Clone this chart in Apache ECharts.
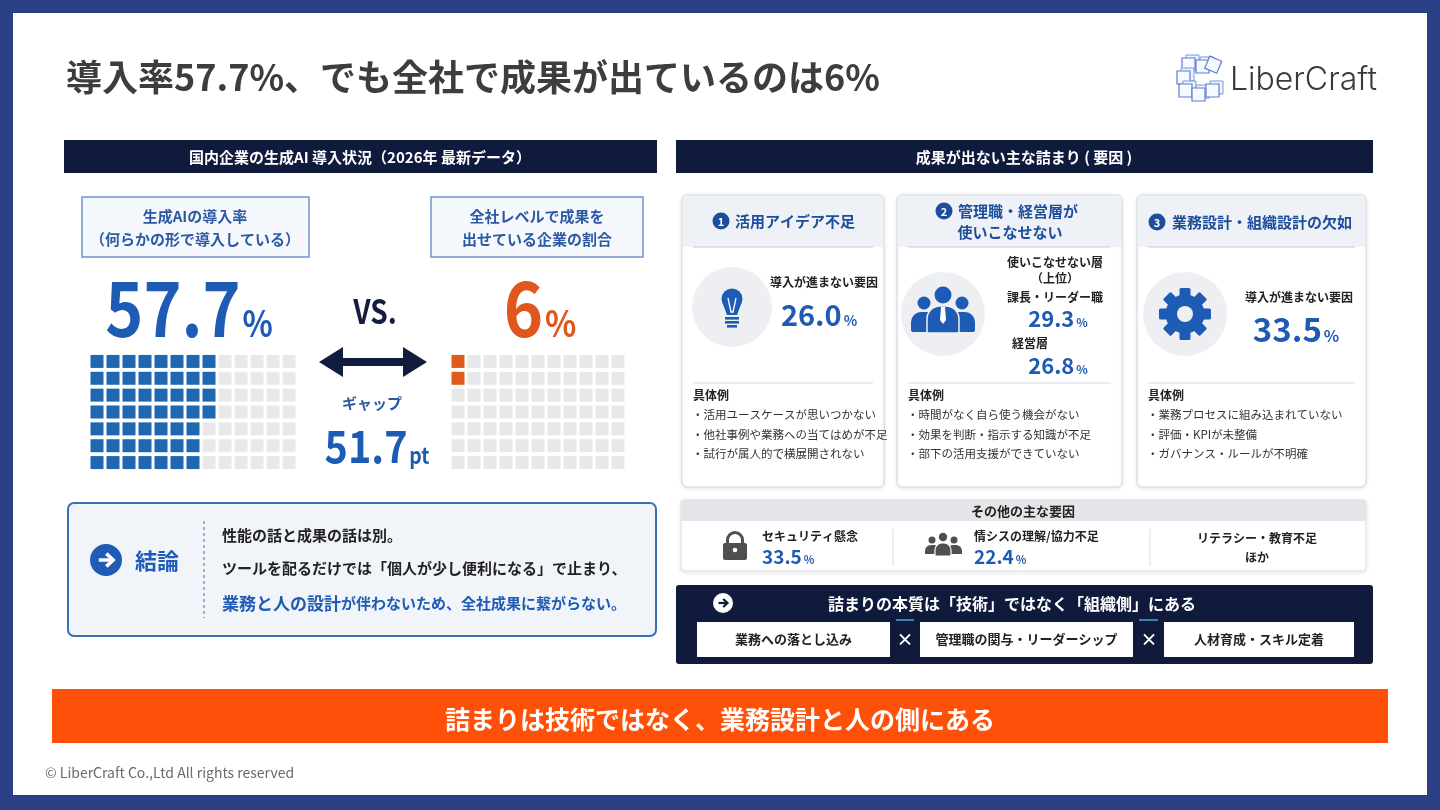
<!DOCTYPE html>
<html>
<head>
<meta charset="utf-8">
<script src="https://cdn.jsdelivr.net/npm/echarts@6/dist/echarts.min.js"></script>
<style>
  html, body { margin: 0; padding: 0; background: #2b3f84; }
  #main { width: 1440px; height: 810px; }
</style>
</head>
<body>
<div id="main"></div>
<script>
// ---- data ----
var headlineRates = [57.7, 6];          // 導入率 / 全社で成果
var gapPoints = 51.7;
var waffleRows = 7;
var waffleCols = [13, 11];
var waffleFilled = [53, 2];
var causeTitles = ['活用アイデア不足', '管理職・経営層が', '業務設計・組織設計の欠如'];
var causeValues = [26.0, 33.5];         // card 1, card 3
var managerLayers = ['課長・リーダー職', '経営層'];
var managerValues = [29.3, 26.8];
var causeExamples = [
  ['・活用ユースケースが思いつかない', '・他社事例や業務への当てはめが不足', '・試行が属人的で横展開されない'],
  ['・時間がなく自ら使う機会がない', '・効果を判断・指示する知識が不足', '・部下の活用支援ができていない'],
  ['・業務プロセスに組み込まれていない', '・評価・KPIが未整備', '・ガバナンス・ルールが不明確']
];
var otherFactors = ['セキュリティ懸念', '情シスの理解/協力不足', 'リテラシー・教育不足'];
var otherValues = [33.5, 22.4];
var keyFactors = ['業務への落とし込み', '管理職の関与・リーダーシップ', '人材育成・スキル定着'];

var FONT = '"Noto Sans CJK JP", "Noto Sans", sans-serif';
var BLUE = '#1e5bb4';
var NAVY = '#0f1a3c';
var ORANGE = '#e0561c';
var DARK = '#222';

// ---- small helpers for graphic elements ----
var T = function (x, y, text, size, color, weight, align) {
  return {
    type: 'text', x: x, y: y,
    style: {
      text: text, fill: color || DARK,
      font: (weight || 'bold') + ' ' + size + 'px ' + FONT,
      align: align || 'left', verticalAlign: 'middle'
    }
  };
};
var R = function (x, y, w, h, fill, stroke, lw, r, extra) {
  var e = {
    type: 'rect', shape: { x: x, y: y, width: w, height: h, r: r || 0 },
    style: { fill: fill, stroke: stroke || null, lineWidth: lw || 0 }
  };
  if (extra) { for (var k in extra) e.style[k] = extra[k]; }
  return e;
};
var C = function (cx, cy, r, fill) {
  return { type: 'circle', shape: { cx: cx, cy: cy, r: r }, style: { fill: fill } };
};
var L = function (x1, y1, x2, y2, color, lw, dash) {
  return {
    type: 'line', shape: { x1: x1, y1: y1, x2: x2, y2: y2 },
    style: { stroke: color, lineWidth: lw || 1, lineDash: dash || null }
  };
};
var pct = function (v, big, small, color) {
  return {
    text: '{n|' + v + '}{p|%}',
    rich: {
      n: { font: 'bold ' + big + 'px ' + FONT, fill: color, verticalAlign: 'bottom', lineHeight: big },
      p: { font: 'bold ' + small + 'px ' + FONT, fill: color, verticalAlign: 'bottom', lineHeight: big, padding: [0, 0, big * 0.06, 2] }
    }
  };
};
var RT = function (x, y, rt, align, sx) {
  rt.align = align || 'center';
  rt.verticalAlign = 'middle';
  return { type: 'text', x: x, y: y, scaleX: sx || 1, style: rt };
};
var arrowCircle = function (cx, cy, r, bg, fg) {
  return [
    C(cx, cy, r, bg),
    L(cx - r * 0.45, cy, cx + r * 0.4, cy, fg, r * 0.22),
    { type: 'polyline', shape: { points: [[cx + r * 0.02, cy - r * 0.4], [cx + r * 0.45, cy], [cx + r * 0.02, cy + r * 0.4]] },
      style: { stroke: fg, lineWidth: r * 0.22, fill: null } }
  ];
};
var numBadge = function (cx, cy, n) {
  return [C(cx, cy, 8.5, '#1d4d9b'), T(cx, cy + 0.5, String(n), 11, '#fff', 'bold', 'center')];
};

var g = [];
// frame panel
g.push(R(13, 13, 1414, 782, '#ffffff'));

// title + logo
g.push(T(66, 77, '導入率57.7%、でも全社で成果が出ているのは6%', 36, '#3d3d3d'));
var cubes = [[1182, 58], [1196, 60], [1177, 71], [1179, 84], [1192, 88], [1206, 84]];
cubes.forEach(function (c) {
  g.push(R(c[0] + 4, c[1] - 3, 13, 13, '#eef3fd', '#7b97d8', 1));
  g.push(R(c[0], c[1], 13, 13, '#f6f9ff', '#5b7fd0', 1.2));
});
g.push({ type: 'rect', shape: { x: 1207, y: 58, width: 13, height: 13 }, rotation: -0.4, originX: 1213, originY: 64,
  style: { fill: '#f6f9ff', stroke: '#5b7fd0', lineWidth: 1.2 } });
g.push({ type: 'text', x: 1230, y: 80, style: { text: 'LiberCraft', fill: '#3a3a3a', font: '300 32px Inter, Lato, sans-serif', align: 'left', verticalAlign: 'middle' } });

// section headers
g.push(R(64, 140, 593, 33, NAVY));
g.push(T(360, 157, '国内企業の生成AI 導入状況（2026年 最新データ）', 15, '#fff', 'bold', 'center'));
g.push(R(676, 140, 697, 33, NAVY));
g.push(T(1024, 157, '成果が出ない主な詰まり ( 要因 )', 15, '#fff', 'bold', 'center'));

// left: label boxes
g.push(R(82, 197, 227, 60, '#f5f8fc', '#6d95cf', 1.5));
g.push(T(195, 216, '生成AIの導入率', 15, '#2b5aa3', 'bold', 'center'));
g.push(T(195, 239, '（何らかの形で導入している）', 15, '#2b5aa3', 'bold', 'center'));
g.push(R(431, 197, 212, 60, '#f5f8fc', '#6d95cf', 1.5));
g.push(T(537, 216, '全社レベルで成果を', 15, '#2b5aa3', 'bold', 'center'));
g.push(T(537, 239, '出せている企業の割合', 15, '#2b5aa3', 'bold', 'center'));

// big numbers
g.push(RT(189, 308, pct(headlineRates[0], 76, 37, BLUE), 'center', 0.85));
var vs = T(375, 311, 'VS.', 33, '#141d3d', 'bold', 'center');
vs.scaleX = 0.85;
g.push(vs);
g.push(RT(540, 308, pct(headlineRates[1], 76, 37, ORANGE), 'center', 0.88));

// double arrow + gap
g.push({ type: 'polygon', shape: { points: [[319, 362], [343, 347], [343, 358], [403, 358], [403, 347], [427, 362], [403, 377], [403, 366], [343, 366], [343, 377]] },
  style: { fill: '#121c3c' } });
g.push(T(372, 403, 'ギャップ', 15, '#2b5aa3', 'bold', 'center'));
g.push(RT(377, 446, {
  text: '{n|' + gapPoints + '}{p|pt}',
  rich: {
    n: { font: 'bold 45px ' + FONT, fill: BLUE, verticalAlign: 'bottom', lineHeight: 45 },
    p: { font: 'bold 22px ' + FONT, fill: BLUE, verticalAlign: 'bottom', lineHeight: 45, padding: [0, 0, 2, 2] }
  }
}, 'center', 0.88));

// conclusion box
g.push(R(68, 503, 588, 133, '#f1f4f9', '#3a6fb5', 2, 6));
arrowCircle(106, 560, 16, '#1f5cb5', '#fff').forEach(function (e) { g.push(e); });
g.push(T(135, 561, '結論', 22, '#1f5cb5', 'bold'));
g.push(L(204, 521, 204, 618, '#6b7fa8', 1.2, [3, 3]));
g.push(T(222, 535, '性能の話と成果の話は別。', 15, DARK));
g.push(T(222, 568, 'ツールを配るだけでは「個人が少し便利になる」で止まり、', 15, DARK));
g.push(RT(222, 602, {
  text: '{a|業務と人の設計}{b|が伴わないため、全社成果に繋がらない。}',
  rich: {
    a: { font: 'bold 17px ' + FONT, fill: '#1f5cb5', verticalAlign: 'bottom', lineHeight: 20 },
    b: { font: 'bold 15px ' + FONT, fill: '#1f5cb5', verticalAlign: 'bottom', lineHeight: 20, padding: [0, 0, 1, 0] }
  }
}, 'left'));

// right: cause cards
var cards = [[682, 202], [897, 225], [1137, 229]];
var shadow = { shadowBlur: 4, shadowColor: 'rgba(0,0,0,0.10)', shadowOffsetY: 1 };
cards.forEach(function (c, i) {
  g.push(R(c[0], 195, c[1], 292, '#fff', '#d3d8df', 1, 5, shadow));
  g.push(R(c[0] + 1, 196, c[1] - 2, 51, '#eef2f7', null, 0, [5, 5, 0, 0]));
  g.push(L(c[0] + 11, 247, c[0] + c[1] - 11, 247, '#c9ced6', 1));
  g.push(L(c[0] + 11, 383, c[0] + c[1] - 11, 383, '#d6dae0', 1));
  g.push(T(c[0] + 11, 395, '具体例', 12, DARK));
  causeExamples[i].forEach(function (s, j) {
    g.push(T(c[0] + 10, 415 + j * 19.5, s, 11.5, '#333', 'normal'));
  });
});
// card 1
numBadge(721, 221, 1).forEach(function (e) { g.push(e); });
g.push(T(735, 221, causeTitles[0], 15, '#1d4d9b'));
g.push(C(732, 307, 40, '#eeeff2'));
g.push(C(732, 299, 10.5, BLUE));
g.push({ type: 'polygon', shape: { points: [[723, 304], [741, 304], [737, 315], [727, 315]] }, style: { fill: BLUE } });
g.push({ type: 'polyline', shape: { points: [[728, 298], [731, 312], [733, 312], [736, 298]] }, style: { stroke: '#fff', lineWidth: 1.3, fill: null } });
g.push(R(725, 317, 14, 2.6, BLUE));
g.push(R(725, 321, 14, 2.6, BLUE));
g.push(R(727, 325, 10, 2.6, BLUE));
g.push(T(824, 282, '導入が進まない要因', 12, DARK, 'bold', 'center'));
g.push(RT(819, 315, pct(causeValues[0].toFixed(1), 29, 14, BLUE)));
// card 2
numBadge(944, 211, 2).forEach(function (e) { g.push(e); });
g.push(T(958, 211, causeTitles[1], 15, '#1d4d9b'));
g.push(T(1010, 232, '使いこなせない', 15, '#1d4d9b', 'bold', 'center'));
g.push(C(943, 314, 42, '#eeeff2'));
g.push(C(924, 303, 6.5, BLUE));
g.push(C(962, 303, 6.5, BLUE));
g.push(R(911, 312, 26, 20, BLUE, null, 0, [10, 10, 2, 2]));
g.push(R(949, 312, 26, 20, BLUE, null, 0, [10, 10, 2, 2]));
g.push(C(943, 295, 8.5, BLUE, null));
g.push(R(927, 306, 32, 27, BLUE, '#eeeff2', 1.5, [13, 13, 2, 2]));
g.push({ type: 'polygon', shape: { points: [[941, 307], [945, 307], [946, 320], [943, 324], [940, 320]] }, style: { fill: '#fff' } });
g.push(T(1055, 262, '使いこなせない層', 12, DARK, 'bold', 'center'));
g.push(T(1055, 278, '（上位）', 12, DARK, 'bold', 'center'));
g.push(T(1055, 297, managerLayers[0], 12, DARK, 'bold', 'center'));
g.push(RT(1058, 319, pct(managerValues[0].toFixed(1), 22, 12, BLUE)));
g.push(T(1012, 343, managerLayers[1], 12, DARK, 'bold', 'left'));
g.push(RT(1058, 366, pct(managerValues[1].toFixed(1), 22, 12, BLUE)));
// card 3
numBadge(1157, 222, 3).forEach(function (e) { g.push(e); });
g.push(T(1172, 222, causeTitles[2], 15, '#1d4d9b'));
g.push(C(1185, 314, 42, '#eeeff2'));
for (var k = 0; k < 8; k++) {
  g.push({ type: 'rect', shape: { x: 1185 - 5.5, y: 314 - 26, width: 11, height: 10, r: 1.5 },
    rotation: k * Math.PI / 4, originX: 1185, originY: 314, style: { fill: BLUE } });
}
g.push(C(1185, 314, 19.5, BLUE));
g.push(C(1185, 314, 8, '#eeeff2'));
g.push(T(1299, 297, '導入が進まない要因', 12, DARK, 'bold', 'center'));
g.push(RT(1296, 329, pct(causeValues[1].toFixed(1), 33, 16, BLUE)));

// other factors
g.push(R(681, 500, 685, 71, '#fff', '#dfe2e7', 1, 3, shadow));
g.push(R(681, 500, 685, 21, '#e3e5e9', null, 0, [3, 3, 0, 0]));
g.push(T(1023, 511, 'その他の主な要因', 13, DARK, 'bold', 'center'));
g.push(L(893, 529, 893, 566, '#d9dce1', 1));
g.push(L(1150, 529, 1150, 566, '#d9dce1', 1));
// lock
g.push({ type: 'arc', shape: { cx: 735, cy: 540, r: 7.5, startAngle: Math.PI, endAngle: 0 }, style: { stroke: '#4f4f4f', lineWidth: 3, fill: null } });
g.push(L(727.5, 540, 727.5, 545, '#4f4f4f', 3));
g.push(L(742.5, 540, 742.5, 545, '#4f4f4f', 3));
g.push(R(723, 543, 24, 17, '#4f4f4f', null, 0, 2));
g.push(C(735, 550, 2.3, '#fff'));
g.push(T(762, 536, otherFactors[0], 12, DARK, 'bold'));
g.push(RT(762, 557, pct(otherValues[0].toFixed(1), 19, 11, BLUE), 'left'));
// group
g.push(C(932, 540, 3.5, '#4f4f4f'));
g.push(C(954, 540, 3.5, '#4f4f4f'));
g.push(R(925, 545, 15, 9, '#4f4f4f', null, 0, [6, 6, 0, 0]));
g.push(R(947, 545, 15, 9, '#4f4f4f', null, 0, [6, 6, 0, 0]));
g.push(C(943, 537, 4.2, '#4f4f4f'));
g.push(R(935, 543, 16, 13, '#4f4f4f', '#fff', 1.2, [7, 7, 0, 0]));
g.push(T(974, 536, otherFactors[1], 12, DARK, 'bold'));
g.push(RT(974, 557, pct(otherValues[1].toFixed(1), 19, 11, BLUE), 'left'));
g.push(T(1257, 538, otherFactors[2], 12, DARK, 'bold', 'center'));
g.push(T(1257, 557, 'ほか', 12, DARK, 'bold', 'center'));

// essence box
g.push(R(676, 585, 697, 79, NAVY, null, 0, 3));
arrowCircle(723, 603, 10, '#fff', NAVY).forEach(function (e) { g.push(e); });
g.push(T(1012, 604, '詰まりの本質は「技術」ではなく「組織側」にある', 16, '#fff', 'bold', 'center'));
var boxes = [[697, 193], [920, 213], [1164, 190]];
boxes.forEach(function (b, i) {
  g.push(R(b[0], 622, b[1], 35, '#fff'));
  g.push(T(b[0] + b[1] / 2, 639, keyFactors[i], 13, DARK, 'bold', 'center'));
});
g.push(L(896, 620, 914, 620, '#4aa3d8', 1.5));
g.push(L(1139, 620, 1158, 620, '#4aa3d8', 1.5));
g.push(T(905, 640, '×', 17, '#fff', 'bold', 'center'));
g.push(T(1149, 640, '×', 17, '#fff', 'bold', 'center'));

// banner + footer
g.push(R(52, 689, 1336, 54, '#fe5009'));
g.push(T(720, 719, '詰まりは技術ではなく、業務設計と人の側にある', 25, '#fff', 'bold', 'center'));
g.push(T(45, 773, '© LiberCraft Co.,Ltd All rights reserved', 14, '#6a6a6a', 'normal'));

// ---- waffle series ----
var waffleColors = [['#1f67b1', '#e8e8ea'], ['#e05a1a', '#e8e8ea']];
var waffleData = function (idx) {
  var out = [];
  var n = waffleCols[idx] * waffleRows;
  for (var i = 0; i < n; i++) {
    out.push({
      value: [Math.floor(i / waffleRows), i % waffleRows],
      itemStyle: { color: i < waffleFilled[idx] ? waffleColors[idx][0] : waffleColors[idx][1], opacity: 1 }
    });
  }
  return out;
};
var cats = function (n) { var a = []; for (var i = 0; i < n; i++) a.push(String(i)); return a; };
var hidden = { show: false };

var chart = echarts.init(document.getElementById('main'));
chart.setOption({
  backgroundColor: '#2b3f84',
  animation: false,
  grid: [
    { left: 89, top: 353, width: waffleCols[0] * 16, height: 118 },
    { left: 450, top: 353, width: waffleCols[1] * 16, height: 118 }
  ],
  xAxis: [
    { type: 'category', gridIndex: 0, data: cats(waffleCols[0]), axisLine: hidden, axisTick: hidden, axisLabel: hidden, splitLine: hidden },
    { type: 'category', gridIndex: 1, data: cats(waffleCols[1]), axisLine: hidden, axisTick: hidden, axisLabel: hidden, splitLine: hidden }
  ],
  yAxis: [
    { type: 'category', gridIndex: 0, inverse: true, data: cats(waffleRows), axisLine: hidden, axisTick: hidden, axisLabel: hidden, splitLine: hidden },
    { type: 'category', gridIndex: 1, inverse: true, data: cats(waffleRows), axisLine: hidden, axisTick: hidden, axisLabel: hidden, splitLine: hidden }
  ],
  graphic: { elements: g },
  series: [
    { type: 'scatter', xAxisIndex: 0, yAxisIndex: 0, symbol: 'rect', symbolSize: [13, 13], silent: true, z: 5, itemStyle: { opacity: 1 }, data: waffleData(0) },
    { type: 'scatter', xAxisIndex: 1, yAxisIndex: 1, symbol: 'rect', symbolSize: [13, 13], silent: true, z: 5, itemStyle: { opacity: 1 }, data: waffleData(1) }
  ]
});
</script>
</body>
</html>
